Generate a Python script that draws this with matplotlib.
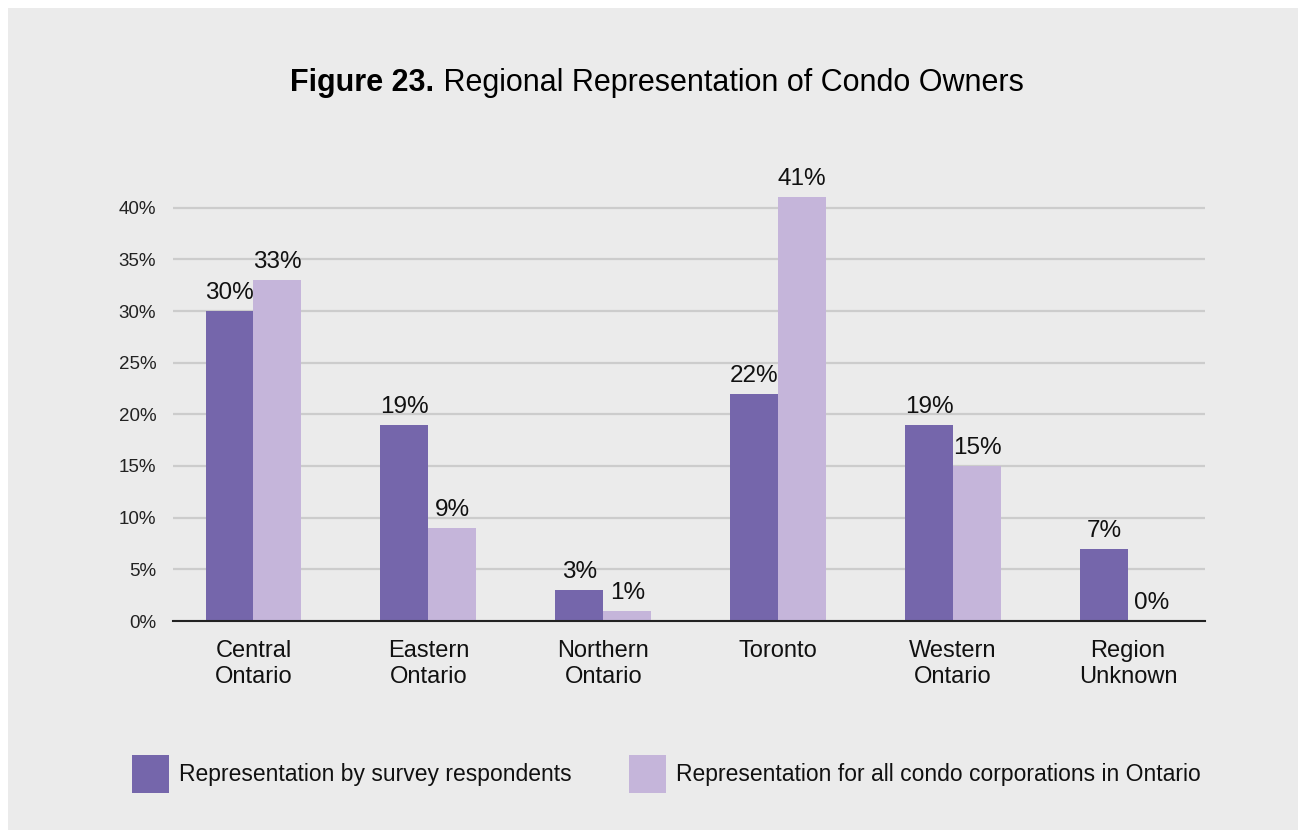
import matplotlib
matplotlib.use("Agg")
import numpy as np
from matplotlib import pyplot as plt
from matplotlib.patches import Patch, Rectangle

plt.rcParams['font.family'] = ['Liberation Sans', 'DejaVu Sans']

regions = ["Central\nOntario", "Eastern\nOntario", "Northern\nOntario", "Toronto", "Western\nOntario", "Region\nUnknown"]
survey = [30, 19, 3, 22, 19, 7]
all_condos = [33, 9, 1, 41, 15, 0]
series_names = ["Representation by survey respondents",
                "Representation for all condo corporations in Ontario"]
yticks = [0, 5, 10, 15, 20, 25, 30, 35, 40]

dark = '#7566ab'
light = '#c5b5da'
bg = '#ebebeb'

fig = plt.figure(figsize=(13.02, 8.36), dpi=100)
fig.patch.set_facecolor('white')
fig.patches.append(Rectangle((8 / 1302, 6 / 836), 1290 / 1302, 822 / 836,
                             transform=fig.transFigure, facecolor=bg, edgecolor='none', zorder=-10))

ax = fig.add_axes([173 / 1302, 215 / 836, 1032 / 1302, 465 / 836])
ax.set_facecolor(bg)

x = np.arange(len(regions))
w = 0.274
b1 = ax.bar(x - w / 2, survey, w, color=dark, zorder=3)
b2 = ax.bar(x + w / 2, all_condos, w, color=light, zorder=3)

for bars, vals in ((b1, survey), (b2, all_condos)):
    for r, v in zip(bars, vals):
        ax.annotate(f"{v}%", (r.get_x() + r.get_width() / 2, v), xytext=(0, 5),
                    textcoords='offset points', ha='center', va='bottom',
                    fontsize=17.5, color='#111111')

ax.set_xlim(-0.46, 5.44)
ax.set_ylim(0, 45)
ax.set_yticks(yticks)
ax.set_yticklabels([f"{t}%" for t in yticks], fontsize=13.5, color='#222222')
ax.set_xticks(x)
ax.set_xticklabels(regions, fontsize=17, color='#111111', linespacing=1.2)
ax.tick_params(axis='both', length=0)
ax.tick_params(axis='y', pad=12)
ax.tick_params(axis='x', pad=14)
ax.grid(axis='y', color='#cccccc', linewidth=1.6, zorder=0)
for s in ['top', 'right', 'left']:
    ax.spines[s].set_visible(False)
ax.spines['bottom'].set_color('#222222')
ax.spines['bottom'].set_linewidth(1.5)
ax.spines['bottom'].set_zorder(4)

# two-part title: bold prefix + regular text, centred together
fig.canvas.draw()
r = fig.canvas.get_renderer()
t1 = fig.text(0, 1 - 83 / 836, "Figure 23.", fontsize=22, fontweight='bold', va='center', ha='left')
t2 = fig.text(0, 1 - 83 / 836, " Regional Representation of Condo Owners", fontsize=22, va='center', ha='left')
w1 = t1.get_window_extent(r).width
w2 = t2.get_window_extent(r).width
start = 657 - (w1 + w2) / 2
t1.set_x(start / 1302)
t2.set_x((start + w1) / 1302)

handles = [Patch(facecolor=dark), Patch(facecolor=light)]
fig.legend(handles, series_names, loc='center left', bbox_to_anchor=(121 / 1302, 1 - 774 / 836),
           ncol=2, frameon=False, fontsize=16.5, handlelength=1.6, handleheight=2.2,
           handletextpad=0.45, columnspacing=2.5, borderpad=0, labelcolor='#111111')

fig.savefig('out.png', dpi=100, facecolor='white')
